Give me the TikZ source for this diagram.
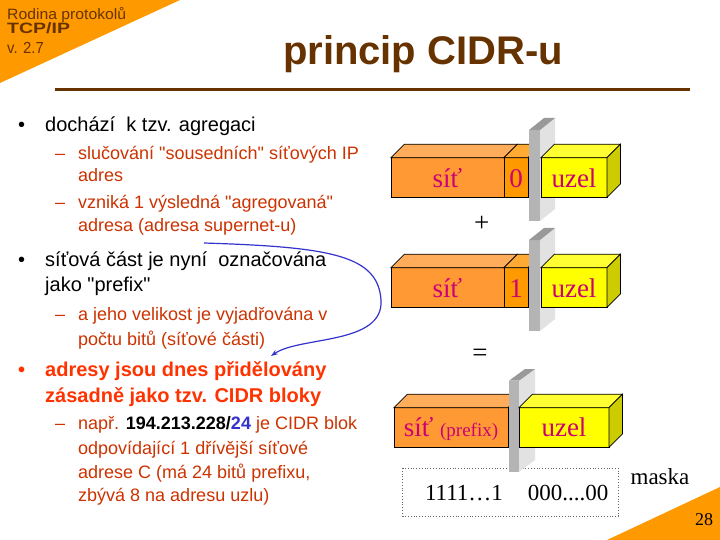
\documentclass[tikz,border=0pt]{standalone}
\usepackage{fontspec}
\setmainfont{Liberation Sans}
\newfontfamily\sansF{Liberation Sans}
\newfontfamily\serifF{Liberation Serif}
\usetikzlibrary{arrows.meta}
\definecolor{brownT}{HTML}{663300}
\definecolor{orgTri}{HTML}{FF9900}
\definecolor{subc}{HTML}{CC3300}
\definecolor{boldc}{HTML}{FF3300}
\definecolor{blueN}{HTML}{3333CC}
\definecolor{orgF}{HTML}{FF9933}
\definecolor{orgT}{HTML}{FFAD5B}
\definecolor{orgZ}{HTML}{FF9900}
\definecolor{orgZT}{HTML}{FFAA33}
\definecolor{yelF}{HTML}{FFFF00}
\definecolor{yelT}{HTML}{FFFF33}
\definecolor{yelS}{HTML}{CCCC00}
\definecolor{slabF}{HTML}{B4B4B4}
\definecolor{slabS}{HTML}{E2E2E2}
\definecolor{slabT}{HTML}{999999}
\definecolor{boxtxt}{HTML}{CC0077}
\begin{document}
\begin{tikzpicture}[x=1pt,y=-1pt,
  bul/.style={anchor=base west,inner sep=0pt,font=\sansF\fontsize{20}{24}\selectfont},
  subl/.style={anchor=base west,inner sep=0pt,font=\sansF\fontsize{18}{22}\selectfont,text=subc},
  boldl/.style={anchor=base west,inner sep=0pt,font=\sansF\fontsize{20}{24}\selectfont\bfseries,text=boldc},
  boxlbl/.style={anchor=base,inner sep=0pt,font=\serifF\fontsize{27}{30}\selectfont,text=boxtxt},
  facedraw/.style={draw=black,line width=0.7pt,line join=miter},
  signlbl/.style={anchor=center,inner sep=0pt,font=\serifF\fontsize{27}{30}\selectfont},
  masklbl/.style={anchor=base,inner sep=0pt,font=\serifF\fontsize{23}{26}\selectfont}
]
\useasboundingbox (0,0) rectangle (720,540);
\fill[white] (0,0) rectangle (720,540);
% corner triangles
\fill[orgTri] (0,0) -- (180,0) -- (0,83) -- cycle;
\fill[orgTri] (720,487) -- (720,540) -- (607,540) -- cycle;
% header
\node[anchor=base west,inner sep=0pt,text=brownT,font=\sansF\fontsize{15}{17}\selectfont] (hdrA) at (7,19.3) {\scalebox{1.05}[1]{Rodina protokolů}};
\node[anchor=base west,inner sep=0pt,text=brownT,font=\sansF\fontsize{15}{17}\selectfont\bfseries] (hdrB) at (7,34) {\scalebox{1.3}[1]{TCP/IP}};
\node[anchor=base west,inner sep=0pt,text=brownT,font=\sansF\fontsize{16}{18}\selectfont] (hdrC) at (7,53.3) {\scalebox{0.93}[1]{v. 2.7}};
\node[anchor=base,inner sep=0pt,text=brownT,font=\sansF\fontsize{40}{44}\selectfont\bfseries] (title) at (423,65) {princip CIDR-u};
\draw[brownT,line width=3pt] (55,90) -- (690,90);
% bullets
\node[bul] (m1) at (18,132) {•};
\node[bul] (t1) at (45,132) {dochází\hspace{0.28em} k tzv. agregaci};
\node[subl] (d1) at (55,159.3) {–};
\node[subl] (s1a) at (78,159.3) {slučování "sousedních" síťových IP};
\node[subl] (s1b) at (78,181.7) {adres};
\node[subl] (d2) at (55,208) {–};
\node[subl] (s2a) at (78,208) {vzniká 1 výsledná "agregovaná"};
\node[subl] (s2b) at (78,231) {adresa (adresa supernet-u)};
\node[bul] (m2) at (18,266) {•};
\node[bul] (t2a) at (45,266) {síťová část je nyní\hspace{0.28em} označována};
\node[bul] (t2b) at (45,291.7) {jako "prefix"};
\node[subl] (d3) at (55,320.7) {–};
\node[subl] (s3a) at (78,320.7) {a jeho velikost je vyjadřována v};
\node[subl] (s3b) at (78,345) {počtu bitů (síťové části)};
\node[boldl] (m3) at (18,376) {•};
\node[boldl] (t3a) at (45,376) {adresy jsou dnes přidělovány};
\node[boldl] (t3b) at (45,402.7) {zásadně jako tzv. CIDR bloky};
\node[subl] (d4) at (55,429.3) {–};
\node[subl] (s4a) at (78,429.3) {např. {\bfseries\color{black}194.213.228/}{\bfseries\color{blueN}24} je CIDR blok};
\node[subl] (s4b) at (78,454.3) {odpovídající 1 dřívější síťové};
\node[subl] (s4c) at (78,478.3) {adrese C (má 24 bitů prefixu,};
\node[subl] (s4d) at (78,501.7) {zbývá 8 na adresu uzlu)};
% blue curved arrow
\coordinate (cs) at (204,243);
\coordinate (cm) at (381,300);
\coordinate (ce) at (271,356);
\draw[blueN,line width=1.2pt,-{Stealth[length=7pt,width=5pt]}] (cs) .. controls (330,247) and (378,255) .. (cm) .. controls (384,345) and (300,336) .. (ce);
% rows 1 and 2
\foreach \dy/\bit in {0/0,110/1}{
\begin{scope}[shift={(0,\dy)}]
  \filldraw[facedraw,fill=orgF] (391,157.7) rectangle (504,197.3);
  \filldraw[facedraw,fill=orgZ] (504,157.7) rectangle (528,197.3);
  \filldraw[facedraw,fill=orgT] (391,157.7) -- (404.5,144.2) -- (517.5,144.2) -- (504,157.7) -- cycle;
  \filldraw[facedraw,fill=orgZT] (504,157.7) -- (517.5,144.2) -- (541.5,144.2) -- (528,157.7) -- cycle;
  \fill[slabF] (529,130) rectangle (540,221);
  \fill[slabS] (540,130) -- (555,118) -- (555,209) -- (540,221) -- cycle;
  \fill[slabT] (529,130) -- (544,118) -- (555,118) -- (540,130) -- cycle;
  \filldraw[facedraw,fill=yelF] (541,157.7) rectangle (607,197.3);
  \filldraw[facedraw,fill=yelT] (541,157.7) -- (554.5,144.2) -- (620.5,144.2) -- (607,157.7) -- cycle;
  \filldraw[facedraw,fill=yelS] (607,157.7) -- (620.5,144.2) -- (620.5,183.8) -- (607,197.3) -- cycle;
  \node[boxlbl] (net\bit) at (447.5,187.3) {síť};
  \node[boxlbl] (bit\bit) at (516,187.3) {\bit};
  \node[boxlbl] (host\bit) at (574,187.3) {uzel};
\end{scope}
}
\node[signlbl] (plus) at (481.7,224) {+};
\node[signlbl] (eq) at (480,355) {=};
% mask box
\draw[dotted,gray!80!black,line width=0.8pt] (402.7,468) rectangle (618,516);
% row 3
\filldraw[facedraw,fill=orgF] (394,407.7) rectangle (508,447.3);
\filldraw[facedraw,fill=orgT] (394,407.7) -- (407.5,394.2) -- (521.5,394.2) -- (508,407.7) -- cycle;
\fill[slabF] (509,380.7) rectangle (519,471.7);
\fill[slabS] (519,380.7) -- (535,369) -- (535,460) -- (519,471.7) -- cycle;
\fill[slabT] (509,380.7) -- (525,369) -- (535,369) -- (519,380.7) -- cycle;
\filldraw[facedraw,fill=yelF] (519,407.7) rectangle (609,447.3);
\filldraw[facedraw,fill=yelT] (519,407.7) -- (532.5,394.2) -- (622.5,394.2) -- (609,407.7) -- cycle;
\filldraw[facedraw,fill=yelS] (609,407.7) -- (622.5,394.2) -- (622.5,433.8) -- (609,447.3) -- cycle;
\node[boxlbl] (netP) at (451,436.7) {síť {\fontsize{19}{22}\selectfont(prefix)}};
\node[boxlbl] (hostP) at (564,436.7) {uzel};
\node[masklbl] (ones) at (464,500.7) {1111…1};
\node[masklbl] (zeros) at (568,500.7) {000....00};
\node[masklbl] (maska) at (660,484) {maska};
\node[anchor=base,inner sep=0pt,font=\serifF\fontsize{18}{20}\selectfont] (pg) at (704,525) {28};
\end{tikzpicture}
\end{document}
